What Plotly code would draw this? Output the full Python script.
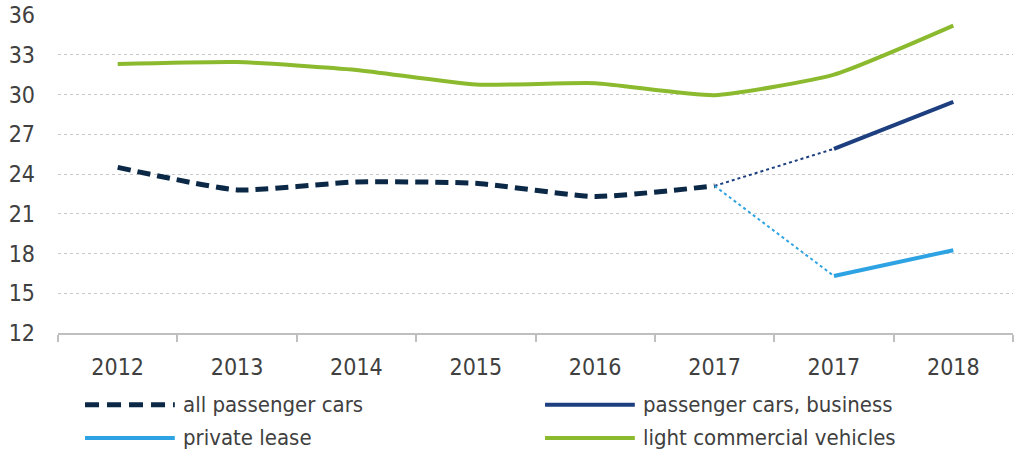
import plotly.graph_objects as go

years = ["2012", "2013", "2014", "2015", "2016", "2017", "2017", "2018"]
all_passenger = [24.5, 22.8, 23.4, 23.3, 22.3, 23.1, None, None]
business = [None, None, None, None, None, None, 25.9, 29.45]
private_lease = [None, None, None, None, None, None, 16.3, 18.25]
light_commercial = [32.3, 32.45, 31.85, 30.75, 30.85, 29.95, 31.5, 35.2]
y_ticks = [12, 15, 18, 21, 24, 27, 30, 33, 36]

x_pos = list(range(len(years)))

C_ALL = "#0b2946"
C_BUS = "#1d3f80"
C_LEASE = "#2ea3e3"
C_LCV = "#8cba2e"
FONT = "Liberation Sans Narrow, DejaVu Sans Condensed, sans-serif"
TXT = "#404040"

fig = go.Figure()

# dotted connectors from last all-cars point to the split series
fig.add_trace(go.Scatter(x=[x_pos[5], x_pos[6]], y=[all_passenger[5], business[6]],
                         mode="lines", line=dict(color=C_BUS, width=2, dash="dot"),
                         showlegend=False, hoverinfo="skip"))
fig.add_trace(go.Scatter(x=[x_pos[5], x_pos[6]], y=[all_passenger[5], private_lease[6]],
                         mode="lines", line=dict(color=C_LEASE, width=2, dash="dot"),
                         showlegend=False, hoverinfo="skip"))

fig.add_trace(go.Scatter(x=x_pos, y=light_commercial, mode="lines", name="light commercial vehicles",
                         line=dict(color=C_LCV, width=4, shape="spline", smoothing=0.5),
                         showlegend=False))
fig.add_trace(go.Scatter(x=x_pos, y=all_passenger, mode="lines", name="all passenger cars",
                         line=dict(color=C_ALL, width=5, dash="13px,7px", shape="spline", smoothing=0.5),
                         showlegend=False))
fig.add_trace(go.Scatter(x=x_pos, y=business, mode="lines", name="passenger cars, business",
                         line=dict(color=C_BUS, width=4), showlegend=False))
fig.add_trace(go.Scatter(x=x_pos, y=private_lease, mode="lines", name="private lease",
                         line=dict(color=C_LEASE, width=4), showlegend=False))

boundaries = [p - 0.5 for p in x_pos] + [x_pos[-1] + 0.5]

fig.update_layout(
    width=1016, height=456,
    margin=dict(l=58, r=3, t=15, b=123, autoexpand=False),
    paper_bgcolor="white", plot_bgcolor="white",
    font=dict(family=FONT, size=23, color=TXT),
    xaxis=dict(range=[boundaries[0], boundaries[-1]], tickmode="array", tickvals=x_pos, ticktext=years,
               ticks="", showgrid=False, zeroline=False, showline=True, linecolor="#bfbfbf", linewidth=2,
               ticklabelstandoff=12, automargin=False,
               minor=dict(tickmode="array", tickvals=boundaries, ticks="outside", ticklen=7,
                          tickcolor="#bfbfbf", tickwidth=2, showgrid=False)),
    yaxis=dict(range=[12, 36], tickmode="array", tickvals=y_ticks, showgrid=True,
               gridcolor="#c8c8c8", griddash="dot", gridwidth=1, zeroline=False, showline=False,
               ticks="", ticklabelstandoff=22, ticklabeloverflow="allow", automargin=False),
)

legend_items = [
    ("all passenger cars", C_ALL, "dash", 0.0283, -0.226),
    ("passenger cars, business", C_BUS, "solid", 0.510, -0.226),
    ("private lease", C_LEASE, "solid", 0.0283, -0.330),
    ("light commercial vehicles", C_LCV, "solid", 0.510, -0.330),
]
for label, color, dash, x0, yy in legend_items:
    fig.add_shape(type="line", xref="paper", yref="paper", x0=x0, x1=x0 + 0.094, y0=yy, y1=yy,
                  line=dict(color=color, width=5 if dash == "dash" else 4,
                            dash="14px,8px" if dash == "dash" else "solid"))
    fig.add_annotation(xref="paper", yref="paper", x=x0 + 0.1, y=yy, text=label, showarrow=False,
                       xanchor="left", yanchor="middle", font=dict(family=FONT, size=22, color=TXT))

fig.write_html("out.html", config={"displayModeBar": False},
               post_script="document.body.style.margin='0px';")
